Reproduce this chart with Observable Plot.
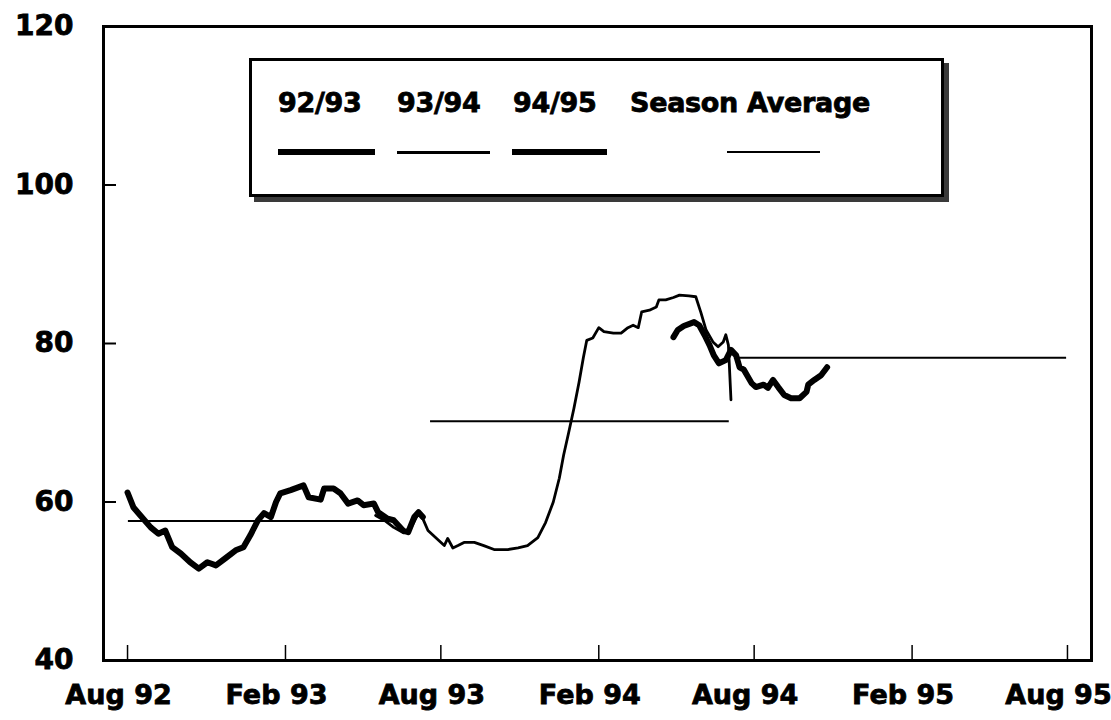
<!DOCTYPE html>
<html>
<head>
<meta charset="utf-8">
<script src="https://cdn.jsdelivr.net/npm/d3@7"></script>
<script src="https://cdn.jsdelivr.net/npm/@observablehq/plot@0.6"></script>
<style>
  body { margin: 0; background: #fff; }
  #wrap { position: relative; width: 1111px; height: 720px; }
  #wrap svg text { stroke: #000; stroke-width: 0.8px; }
  #legend {
    position: absolute; left: 249px; top: 58px; width: 689px; height: 133px;
    border: 3px solid #000; background: #fff; box-shadow: 5px 5px 0 #3a3a3a;
    font-family: "DejaVu Sans", sans-serif; font-weight: bold; font-size: 27px; color: #000;
    -webkit-text-stroke: 0.8px #000;
  }
  .lt { position: absolute; top: 28px; line-height: 27px; white-space: nowrap; letter-spacing: -0.3px; }
  .ll { position: absolute; background: #000; }
</style>
</head>
<body>
<div id="wrap"></div>
<script>
// ---- data ----
const seasonNames = ["92/93", "93/94", "94/95"];

const dates9293 = ["1992-08-01","1992-08-08","1992-08-16","1992-08-28","1992-09-06","1992-09-14","1992-09-22","1992-10-02","1992-10-13","1992-10-23","1992-11-02","1992-11-12","1992-11-23","1992-12-05","1992-12-14","1992-12-22","1992-12-31","1993-01-07","1993-01-15","1993-01-21","1993-01-26","1993-02-07","1993-02-22","1993-02-28","1993-03-14","1993-03-18","1993-03-29","1993-04-06","1993-04-15","1993-04-26","1993-05-03","1993-05-15","1993-05-20","1993-05-31","1993-06-07","1993-06-18","1993-06-24","1993-07-01","1993-07-06","1993-07-11"];
const values9293 = [61.2,59.3,58.3,56.8,56.0,56.4,54.3,53.5,52.4,51.6,52.4,52.0,52.9,53.9,54.3,55.8,57.7,58.6,58.1,60.0,61.1,61.5,62.1,60.6,60.3,61.7,61.7,61.1,59.8,60.2,59.6,59.8,58.7,57.9,57.7,56.4,56.2,58.1,58.7,58.1];

const dates9394 = ["1993-05-17","1993-05-27","1993-06-07","1993-06-19","1993-06-27","1993-07-06","1993-07-11","1993-07-17","1993-07-29","1993-08-05","1993-08-09","1993-08-15","1993-08-21","1993-08-28","1993-09-09","1993-09-20","1993-10-02","1993-10-18","1993-10-30","1993-11-10","1993-11-22","1993-12-01","1993-12-10","1993-12-17","1993-12-22","1993-12-28","1994-01-03","1994-01-09","1994-01-14","1994-01-18","1994-01-25","1994-02-01","1994-02-07","1994-02-18","1994-02-27","1994-03-07","1994-03-13","1994-03-19","1994-03-23","1994-04-01","1994-04-09","1994-04-12","1994-04-20","1994-04-29","1994-05-06","1994-05-17","1994-05-25","1994-05-31","1994-06-06","1994-06-14","1994-06-20","1994-06-26","1994-06-29","1994-07-02","1994-07-05"];
const values9394 = [58.3,57.7,56.8,56.1,56.7,58.6,57.9,56.4,55.2,54.5,55.4,54.2,54.5,54.9,54.9,54.5,54.0,54.0,54.2,54.5,55.5,57.4,60.0,63.0,65.9,68.8,71.8,75.1,78.2,80.4,80.7,82.0,81.5,81.3,81.3,82.0,82.3,82.0,84.0,84.2,84.6,85.5,85.5,85.8,86.1,86.0,85.9,83.9,81.7,80.2,79.6,80.2,81.1,79.8,72.9];

const dates9495 = ["1994-04-29","1994-05-04","1994-05-11","1994-05-23","1994-05-29","1994-06-04","1994-06-10","1994-06-15","1994-06-21","1994-06-29","1994-07-05","1994-07-11","1994-07-15","1994-07-20","1994-07-29","1994-08-03","1994-08-12","1994-08-17","1994-08-23","1994-08-29","1994-09-05","1994-09-13","1994-09-23","1994-10-01","1994-10-03","1994-10-10","1994-10-18","1994-10-25"];
const values9495 = [80.8,81.7,82.2,82.7,82.3,81.1,79.8,78.5,77.5,77.9,79.2,78.5,77.0,76.7,75.0,74.5,74.8,74.4,75.4,74.5,73.5,73.1,73.1,73.9,74.8,75.4,76.0,77.0];

const avgStart = ["1992-08-02","1993-07-20","1994-07-09"];
const avgEnd   = ["1993-06-05","1994-07-03","1995-07-31"];
const avgValue = [57.6, 70.2, 78.2];

const xTickDates  = ["1992-08-01","1993-02-01","1993-08-01","1994-02-01","1994-08-01","1995-02-01","1995-08-01"];
const xTickLabels = ["Aug 92","Feb 93","Aug 93","Feb 94","Aug 94","Feb 95","Aug 95"];
const yTicks = [40, 60, 80, 100, 120];
const xDomain = ["1992-07-04","1995-08-29"];
const yDomain = [40, 120];

// ---- build tables ----
const P = (s) => new Date(s + "T00:00:00Z");
const toRows = (ds, vs) => ds.map((d, i) => ({date: P(d), value: vs[i]}));
const s9293 = toRows(dates9293, values9293);
const s9394 = toRows(dates9394, values9394);
const s9495 = toRows(dates9495, values9495);
const avgs = seasonNames.map((s, i) => ({season: s, start: P(avgStart[i]), end: P(avgEnd[i]), value: avgValue[i]}));
const xTicks = xTickDates.map(P);
const labelOf = new Map(xTicks.map((d, i) => [+d, xTickLabels[i]]));

const chart = Plot.plot({
  width: 1111,
  height: 720,
  marginLeft: 103,
  marginRight: 20,
  marginTop: 26,
  marginBottom: 60,
  style: {fontFamily: "DejaVu Sans, sans-serif", fontWeight: "bold", color: "#000", background: "#fff"},
  x: {type: "utc", domain: xDomain.map(P)},
  y: {domain: yDomain},
  marks: [
    Plot.ruleY(avgs, {y: "value", x1: "start", x2: "end", stroke: "#000", strokeWidth: 2}),
    Plot.line(s9293, {x: "date", y: "value", stroke: "#000", strokeWidth: 6, strokeLinejoin: "round", strokeLinecap: "round"}),
    Plot.line(s9394, {x: "date", y: "value", stroke: "#000", strokeWidth: 2.8, strokeLinejoin: "round"}),
    Plot.line(s9495, {x: "date", y: "value", stroke: "#000", strokeWidth: 6, strokeLinejoin: "round", strokeLinecap: "round"}),
    Plot.frame({stroke: "#000", strokeWidth: 3}),
    Plot.axisY(yTicks, {anchor: "left", tickSize: -13, tickPadding: 43, strokeWidth: 2, fontSize: 28, fontWeight: "bold", label: null}),
    // inward tick marks on the time axis
    Plot.axisX(xTicks, {anchor: "bottom", tickSize: -15, strokeWidth: 1.5, tickFormat: () => "", label: null}),
    // time-axis labels, set slightly left of their ticks as in the original
    Plot.axisX(xTicks, {anchor: "bottom", tickSize: 0, tickPadding: 24, dx: -9, fontSize: 27, fontWeight: "bold", tickFormat: (d) => labelOf.get(+d), label: null})
  ]
});

const wrap = document.getElementById("wrap");
wrap.appendChild(chart);

// legend box drawn over the plot area
const legendItems = [
  {label: seasonNames[0], tx: 26, lx: 26, lw: 97, lh: 6},
  {label: seasonNames[1], tx: 145, lx: 145, lw: 93, lh: 3},
  {label: seasonNames[2], tx: 261, lx: 260, lw: 95, lh: 6},
  {label: "Season Average", tx: 378, lx: 475, lw: 93, lh: 2}
];
const legend = document.createElement("div");
legend.id = "legend";
for (const it of legendItems) {
  const t = document.createElement("div");
  t.className = "lt";
  t.style.left = it.tx + "px";
  t.textContent = it.label;
  legend.appendChild(t);
  const l = document.createElement("div");
  l.className = "ll";
  l.style.left = it.lx + "px";
  l.style.width = it.lw + "px";
  l.style.height = it.lh + "px";
  l.style.top = (91 - it.lh / 2) + "px";
  legend.appendChild(l);
}
wrap.appendChild(legend);
</script>
</body>
</html>
